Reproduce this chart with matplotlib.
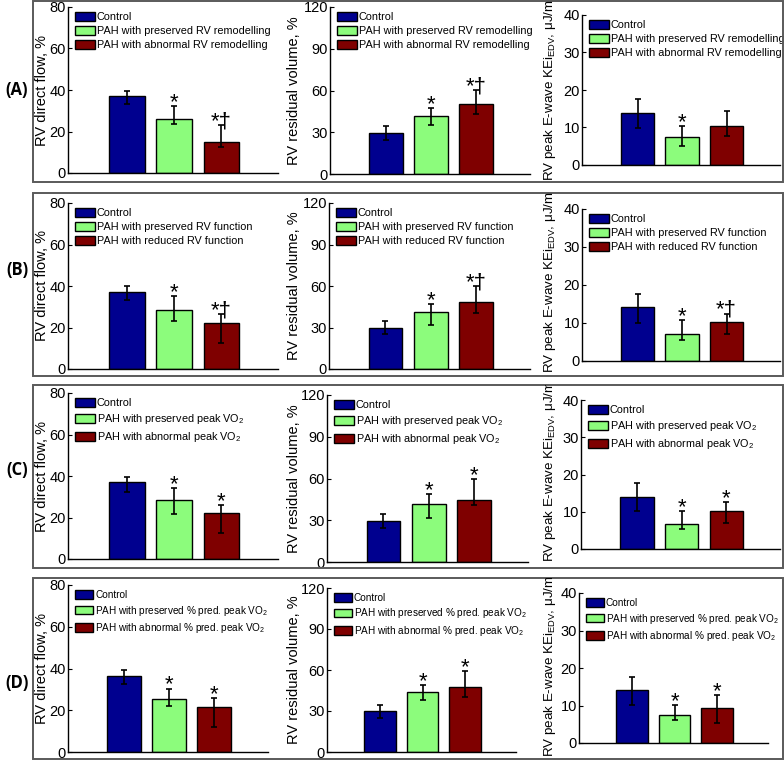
import numpy as np
import matplotlib
matplotlib.use("Agg")
import matplotlib.pyplot as plt
from matplotlib.patches import Rectangle
from matplotlib.transforms import Bbox, TransformedBbox

plt.rcParams['font.family'] = ['Liberation Sans', 'DejaVu Sans']
plt.rcParams['mathtext.fontset'] = 'custom'
plt.rcParams['mathtext.rm'] = 'Liberation Sans'
plt.rcParams['mathtext.it'] = 'Liberation Sans:italic'
plt.rcParams['mathtext.bf'] = 'Liberation Sans:bold'

W, H = 784, 760

# ---- data (mean, upper whisker, lower whisker) ----
groups = ["Control", "PAH preserved", "PAH abnormal"]
colors = ['#00008f', '#8cfc7c', '#7f0000']

row_tags = ["(A)", "(B)", "(C)", "(D)"]
legend_A = ["Control", "PAH with preserved RV remodelling", "PAH with abnormal RV remodelling"]
legend_B = ["Control", "PAH with preserved RV function", "PAH with reduced RV function"]
legend_C = ["Control", "PAH with preserved peak VO$_2$", "PAH with abnormal peak VO$_2$"]
legend_D = ["Control", "PAH with preserved % pred. peak VO$_2$", "PAH with abnormal % pred. peak VO$_2$"]

flow_A = [37.0, 26.2, 15.1]
flow_A_hi = [39.7, 32.4, 23.1]
flow_A_lo = [33.1, 23.6, 12.7]
resid_A = [29.5, 41.5, 50.3]
resid_A_hi = [34.5, 47.6, 60.1]
resid_A_lo = [24.4, 35.0, 43.1]
kei_A = [13.9, 7.5, 10.4]
kei_A_hi = [17.5, 10.5, 14.5]
kei_A_lo = [9.95, 5.1, 7.6]

flow_B = [37.1, 28.6, 22.0]
flow_B_hi = [39.8, 35.3, 26.3]
flow_B_lo = [33.1, 23.3, 12.7]
resid_B = [29.6, 41.4, 48.2]
resid_B_hi = [34.9, 47.2, 59.7]
resid_B_lo = [25.0, 31.8, 40.5]
kei_B = [14.1, 7.1, 10.2]
kei_B_hi = [17.6, 10.7, 12.4]
kei_B_lo = [10.0, 5.5, 7.1]

flow_C = [37.0, 28.2, 22.4]
flow_C_hi = [39.7, 34.4, 26.1]
flow_C_lo = [32.5, 21.9, 12.4]
resid_C = [29.3, 41.5, 44.9]
resid_C_hi = [34.3, 48.7, 59.3]
resid_C_lo = [24.7, 31.7, 40.6]
kei_C = [14.0, 6.7, 10.3]
kei_C_hi = [17.6, 10.3, 12.7]
kei_C_lo = [10.2, 5.3, 6.9]

flow_D = [36.6, 25.5, 21.5]
flow_D_hi = [39.5, 30.4, 25.8]
flow_D_lo = [32.7, 22.1, 12.2]
resid_D = [29.7, 44.1, 47.6]
resid_D_hi = [34.6, 49.2, 59.5]
resid_D_lo = [24.9, 38.0, 40.5]
kei_D = [14.05, 7.56, 9.44]
kei_D_hi = [17.5, 10.2, 12.7]
kei_D_lo = [10.05, 6.1, 5.4]

marks_A = [['', '*', '*\u2020'], ['', '*', '*\u2020'], ['', '*', '']]
marks_B = [['', '*', '*\u2020'], ['', '*', '*\u2020'], ['', '*', '*\u2020']]
marks_C = [['', '*', '*'], ['', '*', '*'], ['', '*', '*']]
marks_D = [['', '*', '*'], ['', '*', '*'], ['', '*', '*']]

ylabels = ["RV direct flow, %", "RV residual volume, %",
           "RV peak E-wave KEi$_{\\mathrm{EDV}}$, \u03bcJ/mL"]
yticks = [[0, 20, 40, 60, 80], [0, 30, 60, 90, 120], [0, 10, 20, 30, 40]]

rows = [
    (legend_A, [(flow_A, flow_A_hi, flow_A_lo), (resid_A, resid_A_hi, resid_A_lo), (kei_A, kei_A_hi, kei_A_lo)], marks_A),
    (legend_B, [(flow_B, flow_B_hi, flow_B_lo), (resid_B, resid_B_hi, resid_B_lo), (kei_B, kei_B_hi, kei_B_lo)], marks_B),
    (legend_C, [(flow_C, flow_C_hi, flow_C_lo), (resid_C, resid_C_hi, resid_C_lo), (kei_C, kei_C_hi, kei_C_lo)], marks_C),
    (legend_D, [(flow_D, flow_D_hi, flow_D_lo), (resid_D, resid_D_hi, resid_D_lo), (kei_D, kei_D_hi, kei_D_lo)], marks_D),
]

# ---- layout in pixels ----
# axes: (x_spine, x_end, y_top, y_zero) per panel
axes_px = [
    [(68, 278, 7, 173), (330, 530, 7, 174), (582, 780, 15, 165)],
    [(68, 278, 203, 369), (329, 530, 203, 369), (582, 780, 209, 361)],
    [(68, 278, 393, 559), (327, 528, 395, 562), (581, 780, 400, 549)],
    [(68, 268, 585, 752), (327, 516, 588, 752), (579, 768, 593, 743)],
]
label_x = [42, 294, 550]
kei_label_bottom = [181, 373, 562, 757]
legend_size = [7.8, 7.8, 7.8, 7.2]
boxes_px = [(33, 1, 783, 182), (33, 193, 783, 376), (33, 385, 783, 568), (33, 578, 783, 759)]
tag_y = [90, 270, 470, 683]

fig = plt.figure(figsize=(W / 100, H / 100), dpi=100)

for r, (legs, panels, marks) in enumerate(rows):
    bx0, by0, bx1, by1 = boxes_px[r]
    fig.add_artist(Rectangle((bx0 / W, 1 - by1 / H), (bx1 - bx0) / W, (by1 - by0) / H,
                             transform=fig.transFigure, fill=False,
                             edgecolor='#5a5a5a', linewidth=1.4))
    fig.text(17 / W, 1 - tag_y[r] / H, row_tags[r], ha='center', va='center',
             fontsize=12, fontweight='bold', family=['Open Sans', 'DejaVu Sans'])
    clip = TransformedBbox(Bbox([[bx0 / W, 1 - by1 / H], [bx1 / W, 1 - by0 / H]]), fig.transFigure)

    for p in range(3):
        x0, x1, yt, yb = axes_px[r][p]
        ax = fig.add_axes([x0 / W, 1 - yb / H, (x1 - x0) / W, (yb - yt) / H])
        mean, hi, lo = panels[p]
        mean = np.array(mean)
        yerr = np.vstack([mean - np.array(lo), np.array(hi) - mean])
        xs = np.arange(1, 4)
        bars = ax.bar(xs, mean, width=0.75, color=colors, edgecolor='black',
                      linewidth=1.0, label=legs, zorder=2)
        ax.errorbar(xs, mean, yerr=yerr, fmt='none', ecolor='black',
                    elinewidth=1.2, capsize=2.5, capthick=1.2, zorder=3)
        for i in range(3):
            if marks[p][i]:
                ax.annotate(marks[p][i], (xs[i], hi[i]), xytext=(0, -1.5),
                            textcoords='offset points', ha='center', va='baseline',
                            fontsize=16)
        ymax = yticks[p][-1]
        ax.set_ylim(0, ymax)
        ax.set_xlim(-0.25, 4.2)
        ax.set_yticks(yticks[p])
        ax.set_xticks([])
        ax.tick_params(axis='y', direction='in', length=3, pad=1.5, labelsize=10.5)
        for s in ['top', 'right']:
            ax.spines[s].set_visible(False)
        ax.spines['left'].set_linewidth(1.0)
        ax.spines['bottom'].set_linewidth(1.0)
        ax.patch.set_alpha(0)

        h = yb - yt
        w = x1 - x0
        ax.legend(handles=list(bars), labels=legs, loc='upper left',
                  bbox_to_anchor=(7 / w, 1 - 5 / h), frameon=False,
                  fontsize=legend_size[r], handlelength=1.8, handleheight=0.9,
                  handletextpad=0.2, labelspacing=0.35, borderpad=0,
                  borderaxespad=0)

        if p < 2:
            t = fig.text(label_x[p] / W, 1 - ((yt + yb) / 2) / H, ylabels[p],
                         rotation=90, ha='center', va='center', fontsize=10.5)
        else:
            # this label runs past the top of the row box in the original and is clipped there
            t = fig.text(label_x[p] / W, 1 - kei_label_bottom[r] / H, ylabels[p],
                         rotation=90, ha='center', va='bottom', fontsize=9.6)
        t.set_clip_box(clip)
        t.set_clip_on(True)

fig.savefig("out.png", dpi=100)
